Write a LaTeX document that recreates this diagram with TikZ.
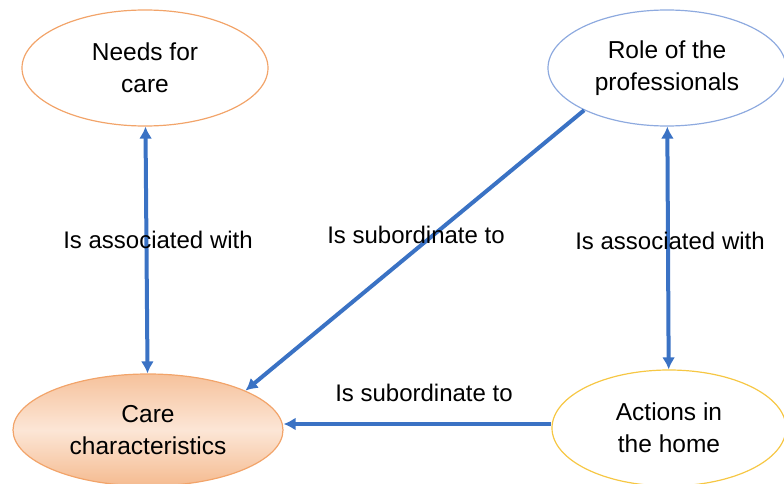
\documentclass[tikz,border=0pt]{standalone}
\usepackage{fontspec}
\setmainfont{Liberation Sans}
\usetikzlibrary{shapes.geometric,arrows.meta}
\definecolor{arrowblue}{HTML}{3A72C4}
\definecolor{orangeedge}{HTML}{F2A46A}
\definecolor{blueedge}{HTML}{8EAADF}
\definecolor{yellowedge}{HTML}{F6C744}
\definecolor{peachtop}{HTML}{F6C29C}
\definecolor{peachmid}{HTML}{FCE6D6}
\definecolor{peachbot}{HTML}{F5BB90}
\begin{document}
\begin{tikzpicture}[x=1pt,y=-1pt,
  concept/.style={ellipse,draw,line width=1.2pt,inner sep=0pt,align=center,
    font=\fontsize{24.5}{32}\selectfont},
  link/.style={arrowblue,line width=4pt,-{Latex[length=12pt,width=13pt]}},
  biglink/.style={arrowblue,line width=4pt,{Latex[length=12pt,width=13pt]}-{Latex[length=12pt,width=13pt]}},
  lbl/.style={font=\fontsize{24}{28}\selectfont,text=black,inner sep=0pt}]
\useasboundingbox (0,0) rectangle (784,484);
\node[concept,draw=orangeedge,minimum width=246pt,minimum height=116pt] (needs) at (145,68) {Needs for\\care};
\node[concept,draw=blueedge,minimum width=238pt,minimum height=116pt] (role) at (667,68) {Role of the\\professionals};
\node[concept,draw=orangeedge,top color=peachtop,bottom color=peachbot,middle color=peachmid,minimum width=270pt,minimum height=112pt] (care) at (148,430) {Care\\characteristics};
\node[concept,draw=yellowedge,minimum width=234pt,minimum height=116pt] (actions) at (669,428) {Actions in\\the home};
\draw[biglink] (needs) -- (care);
\draw[biglink] (role) -- (actions);
\draw[link] (role.207) -- (care.22);
\coordinate (hs) at ([yshift=4pt]actions.west);
\draw[link] (hs) -- (care.east |- hs);
\node[lbl] (l1) at (158,240) {Is associated with};
\node[lbl] (l2) at (416,235) {Is subordinate to};
\node[lbl] (l3) at (670,241) {Is associated with};
\node[lbl] (l4) at (424,393) {Is subordinate to};
\end{tikzpicture}
\end{document}
